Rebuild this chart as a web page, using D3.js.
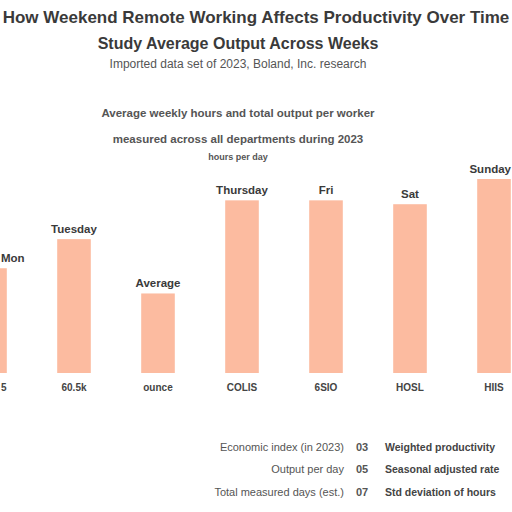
<!DOCTYPE html>
<html>
<head>
  <meta charset="utf-8">
  <title>Bar chart</title>
  <script src="https://cdn.jsdelivr.net/npm/d3@7"></script>
  <style>
    body { margin: 0; background: #fff; }
    svg { display: block; font-family: "Liberation Sans", Arial, sans-serif; }
  </style>
</head>
<body>
  <script>
    // data
    const categories = ["Mon", "Tue", "Wed", "Thu", "Fri", "Sat", "Sun"];
    const values = [54, 69, 41, 89, 89, 87, 100];
    const topLabels = ["Mon", "Tuesday", "Average", "Thursday", "Fri", "Sat", "Sunday"];
    const bottomLabels = ["5", "60.5k", "ounce", "COLIS", "6SIO", "HOSL", "HIIS"];

    const titleLines = [
      "How Weekend Remote Working Affects Productivity Over Time",
      "Study Average Output Across Weeks",
      "Imported data set of 2023, Boland, Inc. research"
    ];
    const subtitleLines = [
      "Average weekly hours and total output per worker",
      "measured across all departments during 2023",
      "hours per day"
    ];

    const noteLeft = ["Economic index (in 2023)", "Output per day", "Total measured days (est.)"];
    const noteMid = ["03", "05", "07"];
    const noteRight = ["Weighted productivity", "Seasonal adjusted rate", "Std deviation of hours"];

    const width = 512, height = 512;

    const svg = d3.select("body")
      .append("svg")
      .attr("width", width)
      .attr("height", height);

    // titles
    svg.append("text")
      .attr("x", 256).attr("y", 23)
      .attr("text-anchor", "middle")
      .attr("font-size", 17).attr("font-weight", "bold")
      .attr("fill", "#3a3a3a")
      .text(titleLines[0]);
    svg.append("text")
      .attr("x", 238).attr("y", 49)
      .attr("text-anchor", "middle")
      .attr("font-size", 16).attr("font-weight", "bold")
      .attr("fill", "#3a3a3a")
      .text(titleLines[1]);
    svg.append("text")
      .attr("x", 238).attr("y", 68)
      .attr("text-anchor", "middle")
      .attr("font-size", 12)
      .attr("fill", "#555")
      .text(titleLines[2]);

    svg.selectAll(".subtitle")
      .data(subtitleLines)
      .enter()
      .append("text")
      .attr("class", "subtitle")
      .attr("x", 238)
      .attr("y", function (d, i) { return [117, 143, 160][i]; })
      .attr("text-anchor", "middle")
      .attr("font-size", function (d, i) { return i == 2 ? 9 : 11.5; })
      .attr("font-weight", "bold")
      .attr("fill", "#555")
      .text(function (d) { return d; });

    // scales
    const xScale = d3.scaleBand()
      .domain(categories)
      .range([-52, 536])
      .paddingInner(0.6)
      .paddingOuter(0.3);

    const yScale = d3.scaleLinear()
      .domain([0, 100])
      .range([373, 179]);

    // keep a centred label inside the picture
    function clampX(sel) {
      sel.each(function () {
        const t = d3.select(this);
        const half = this.getComputedTextLength() / 2;
        const x = +t.attr("x");
        t.attr("x", Math.max(half + 1, Math.min(width - 1 - half, x)));
      });
    }

    // bars
    svg.selectAll("rect")
      .data(values)
      .enter()
      .append("rect")
      .attr("x", function (d, i) { return xScale(categories[i]); })
      .attr("y", function (d) { return yScale(d); })
      .attr("width", xScale.bandwidth())
      .attr("height", function (d) { return yScale(0) - yScale(d); })
      .attr("fill", "#fcbba0");

    // labels over bars
    svg.selectAll(".toplabel")
      .data(values)
      .enter()
      .append("text")
      .attr("class", "toplabel")
      .attr("x", function (d, i) { return xScale(categories[i]) + xScale.bandwidth() / 2; })
      .attr("y", function (d) { return yScale(d) - 6; })
      .attr("text-anchor", "middle")
      .attr("font-size", 11.5).attr("font-weight", "bold")
      .attr("fill", "#3a3a3a")
      .text(function (d, i) { return topLabels[i]; })
      .call(clampX);

    // x axis labels
    svg.selectAll(".xlabel")
      .data(categories)
      .enter()
      .append("text")
      .attr("class", "xlabel")
      .attr("x", function (d) { return xScale(d) + xScale.bandwidth() / 2; })
      .attr("y", 391)
      .attr("text-anchor", "middle")
      .attr("font-size", 10).attr("font-weight", "bold")
      .attr("fill", "#444")
      .text(function (d, i) { return bottomLabels[i]; })
      .call(clampX);

    // notes at the bottom
    const rows = [447, 469, 492];
    svg.selectAll(".noteL")
      .data(noteLeft)
      .enter()
      .append("text")
      .attr("x", 344)
      .attr("y", function (d, i) { return rows[i] + 4; })
      .attr("text-anchor", "end")
      .attr("font-size", 11)
      .attr("fill", "#555")
      .text(function (d) { return d; });
    svg.selectAll(".noteM")
      .data(noteMid)
      .enter()
      .append("text")
      .attr("x", 356)
      .attr("y", function (d, i) { return rows[i] + 4; })
      .attr("font-size", 11).attr("font-weight", "bold")
      .attr("fill", "#555")
      .text(function (d) { return d; });
    svg.selectAll(".noteR")
      .data(noteRight)
      .enter()
      .append("text")
      .attr("x", 385)
      .attr("y", function (d, i) { return rows[i] + 4; })
      .attr("font-size", 10.5).attr("font-weight", "bold")
      .attr("fill", "#444")
      .text(function (d) { return d; });
  </script>
</body>
</html>
